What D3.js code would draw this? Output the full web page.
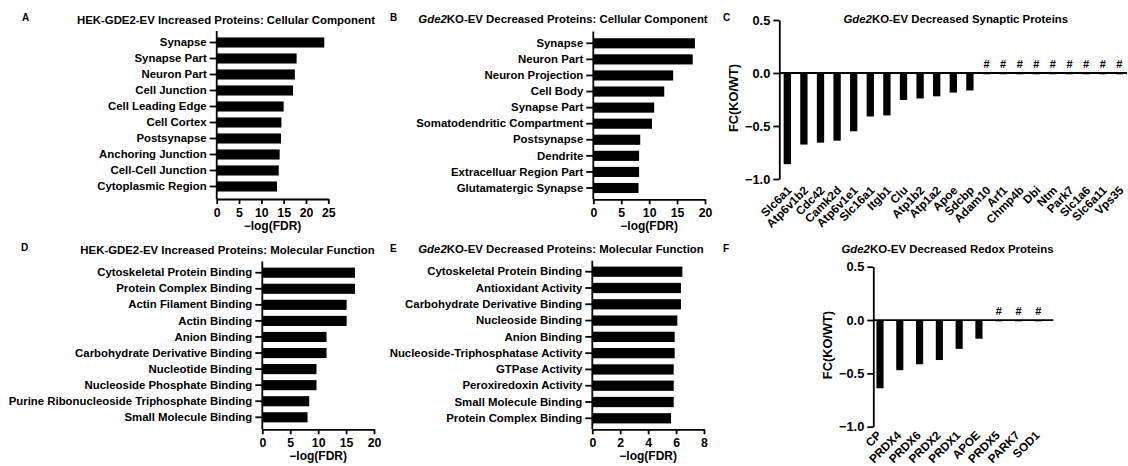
<!DOCTYPE html>
<html>
<head>
<meta charset="utf-8">
<script src="https://cdn.jsdelivr.net/npm/d3@7"></script>
<style>
  body { margin: 0; background: #fff; }
  svg { display: block; font-family: "Liberation Sans", Arial, sans-serif; font-weight: bold; }
  .domain, .tick line { stroke: #000; stroke-width: 1.8; }
  .tick text { fill: #000; font-weight: bold; }
</style>
</head>
<body>
<svg id="fig" width="1128" height="466"></svg>
<script>
// --- data ---
var ccHekCats = ["Synapse", "Synapse Part", "Neuron Part", "Cell Junction", "Cell Leading Edge",
  "Cell Cortex", "Postsynapse", "Anchoring Junction", "Cell-Cell Junction", "Cytoplasmic Region"];
var ccHekVals = [24.1, 17.9, 17.5, 17.1, 15.0, 14.5, 14.4, 14.1, 13.9, 13.5];
var ccHekTicks = [0, 5, 10, 15, 20, 25];

var ccKoCats = ["Synapse", "Neuron Part", "Neuron Projection", "Cell Body", "Synapse Part",
  "Somatodendritic Compartment", "Postsynapse", "Dendrite", "Extracelluar Region Part", "Glutamatergic Synapse"];
var ccKoVals = [18.2, 17.8, 14.3, 12.7, 10.9, 10.5, 8.4, 8.2, 8.2, 8.1];
var ccKoTicks = [0, 5, 10, 15, 20];

var mfHekCats = ["Cytoskeletal Protein Binding", "Protein Complex Binding", "Actin Filament Binding",
  "Actin Binding", "Anion Binding", "Carbohydrate Derivative Binding", "Nucleotide Binding",
  "Nucleoside Phosphate Binding", "Purine Ribonucleoside Triphosphate Binding", "Small Molecule Binding"];
var mfHekVals = [16.6, 16.6, 15.1, 15.1, 11.5, 11.5, 9.7, 9.7, 8.4, 8.1];
var mfHekTicks = [0, 5, 10, 15, 20];

var mfKoCats = ["Cytoskeletal Protein Binding", "Antioxidant Activity", "Carbohydrate Derivative Binding",
  "Nucleoside Binding", "Anion Binding", "Nucleoside-Triphosphatase Activity", "GTPase Activity",
  "Peroxiredoxin Activity", "Small Molecule Binding", "Protein Complex Binding"];
var mfKoVals = [6.45, 6.35, 6.35, 6.09, 5.9, 5.9, 5.83, 5.83, 5.83, 5.64];
var mfKoTicks = [0, 2, 4, 6, 8];

var synGenes = ["Slc6a1", "Atp6v1b2", "Cdc42", "Camk2d", "Atp6v1e1", "Slc16a1", "Itgb1", "Clu",
  "Atp1b2", "Atp1a2", "Apoe", "Sdcbp", "Adam10", "Arf1", "Chmp4b", "Dbi", "Ntm", "Park7",
  "Slc1a6", "Slc6a11", "Vps35"];
var synFC = [-0.86, -0.675, -0.657, -0.638, -0.55, -0.41, -0.40, -0.255, -0.24, -0.22, -0.185, -0.165,
  -0.012, -0.012, -0.012, -0.012, -0.012, -0.012, -0.012, -0.012, -0.012];
var synHash = [0, 0, 0, 0, 0, 0, 0, 0, 0, 0, 0, 0, 1, 1, 1, 1, 1, 1, 1, 1, 1];

var redoxGenes = ["CP", "PRDX4", "PRDX6", "PRDX2", "PRDX1", "APOE", "PRDX5", "PARK7", "SOD1"];
var redoxFC = [-0.64, -0.47, -0.415, -0.375, -0.27, -0.175, -0.012, -0.012, -0.012];
var redoxHash = [0, 0, 0, 0, 0, 0, 1, 1, 1];

var fcTicks = [0.5, 0, -0.5, -1];

var svg = d3.select("#fig");
svg.append("rect").attr("width", 1128).attr("height", 466).attr("fill", "#fff");

function addTitle(parts, cx, y) {
  var t = svg.append("text").attr("x", cx).attr("y", y)
    .attr("text-anchor", "middle").style("font-size", "11.4px");
  parts.forEach(function(p) {
    t.append("tspan").text(p[0]).style("font-style", p[1] ? "italic" : "normal");
  });
}

function addLetter(s, x, y) {
  svg.append("text").attr("x", x).attr("y", y).style("font-size", "10px").text(s);
}

function hbarPanel(o) {
  var g = svg.append("g");
  var n = o.cats.length;
  var step = (o.lastC - o.firstC) / (n - 1);
  var y = d3.scaleBand().domain(o.cats)
    .range([o.firstC - step / 2, o.lastC + step / 2])
    .paddingInner(0.37).paddingOuter(0.185);
  var x = d3.scaleLinear().domain([0, d3.max(o.ticks)]).range([o.x0, o.x1]);

  g.selectAll("rect.bar").data(o.cats).enter().append("rect")
    .attr("class", "bar")
    .attr("x", x(0))
    .attr("y", function(d) { return y(d); })
    .attr("width", function(d, i) { return x(o.vals[i]) - x(0); })
    .attr("height", y.bandwidth())
    .attr("fill", "#000");

  var ya = g.append("g").attr("transform", "translate(" + o.x0 + ",0)")
    .call(d3.axisLeft(y).tickSize(7).tickPadding(3).tickSizeOuter(0));
  ya.select(".domain").remove();
  ya.selectAll(".tick text").style("font-size", "11.4px");
  g.append("line").attr("x1", o.x0).attr("x2", o.x0).attr("y1", o.yTop).attr("y2", o.yBot)
    .attr("stroke", "#000").attr("stroke-width", 1.8);

  var xa = g.append("g").attr("transform", "translate(0," + o.yBot + ")")
    .call(d3.axisBottom(x).tickValues(o.ticks).tickSize(5).tickPadding(4).tickSizeOuter(0));
  xa.selectAll(".tick text").style("font-size", "12.3px");

  g.append("text").attr("x", (o.x0 + o.x1) / 2).attr("y", o.yBot + 31)
    .attr("text-anchor", "middle").style("font-size", "12px").text("\u2212log(FDR)");
}

function vbarPanel(o) {
  var g = svg.append("g");
  var n = o.cats.length;
  var step = (o.lastC - o.firstC) / (n - 1);
  var x = d3.scaleBand().domain(o.cats)
    .range([o.firstC - step / 2, o.lastC + step / 2])
    .paddingInner(o.pad).paddingOuter(o.pad / 2);
  var y = d3.scaleLinear().domain([-1, 0.5]).range([o.yBot, o.yTop]);

  g.selectAll("rect.bar").data(o.cats).enter().append("rect")
    .attr("class", "bar")
    .attr("x", function(d) { return x(d); })
    .attr("y", y(0))
    .attr("width", x.bandwidth())
    .attr("height", function(d, i) { return y(o.vals[i]) - y(0); })
    .attr("fill", "#000");

  g.append("line").attr("x1", o.axisX).attr("x2", o.zeroEnd).attr("y1", y(0)).attr("y2", y(0))
    .attr("stroke", "#000").attr("stroke-width", 1.8);

  var ya = g.append("g").attr("transform", "translate(" + o.axisX + ",0)")
    .call(d3.axisLeft(y).tickValues(fcTicks).tickFormat(d3.format(".1f"))
      .tickSize(6).tickPadding(3).tickSizeOuter(0));
  ya.selectAll(".tick text").style("font-size", "12.8px");

  g.selectAll("text.hash").data(o.cats).enter()
    .filter(function(d, i) { return o.hash[i]; })
    .append("text").attr("class", "hash")
    .attr("x", function(d) { return x(d) + x.bandwidth() / 2; })
    .attr("y", y(0) - 5)
    .attr("text-anchor", "middle").style("font-size", "11px").text("#");

  g.selectAll("text.lab").data(o.cats).enter().append("text")
    .attr("class", "lab")
    .attr("text-anchor", "end")
    .attr("transform", function(d) {
      return "translate(" + (x(d) + x.bandwidth() / 2 + o.labDx) + "," + o.labY + ") rotate(-45)";
    })
    .style("font-size", "11.8px")
    .text(function(d) { return d; });

  g.append("text")
    .attr("transform", "translate(" + (o.axisX - 41) + "," + (y(0) + 25) + ") rotate(-90)")
    .attr("text-anchor", "middle").style("font-size", "12.8px").text("FC(KO/WT)");
}

// A
addLetter("A", 22, 21);
addTitle([["HEK-GDE2-EV Increased Proteins: Cellular Component", false]], 226, 24);
hbarPanel({ cats: ccHekCats, vals: ccHekVals, ticks: ccHekTicks,
  x0: 216.7, x1: 328.3, yTop: 31, yBot: 199, firstC: 42.5, lastC: 186.5 });

// B
addLetter("B", 390, 21);
addTitle([["Gde2", true], ["KO-EV Decreased Proteins: Cellular Component", false]], 563, 23);
hbarPanel({ cats: ccKoCats, vals: ccKoVals, ticks: ccKoTicks,
  x0: 593.3, x1: 705, yTop: 31.5, yBot: 199.3, firstC: 43.3, lastC: 188 });

// C
addLetter("C", 723, 21);
addTitle([["Gde2", true], ["KO-EV Decreased Synaptic Proteins", false]], 955.8, 23);
vbarPanel({ cats: synGenes, vals: synFC, hash: synHash, axisX: 779.3, zeroEnd: 1127,
  yTop: 20, yBot: 179, firstC: 787.3, lastC: 1119.3, pad: 0.56, labDx: 5, labY: 191 });

// D
addLetter("D", 21, 251);
addTitle([["HEK-GDE2-EV Increased Proteins: Molecular Function", false]], 227.5, 254);
hbarPanel({ cats: mfHekCats, vals: mfHekVals, ticks: mfHekTicks,
  x0: 262.3, x1: 374, yTop: 261.5, yBot: 429.3, firstC: 272.7, lastC: 417.3 });

// E
addLetter("E", 390, 252);
addTitle([["Gde2", true], ["KO-EV Decreased Proteins: Molecular Function", false]], 561, 253);
hbarPanel({ cats: mfKoCats, vals: mfKoVals, ticks: mfKoTicks,
  x0: 592.3, x1: 704, yTop: 260.7, yBot: 429.3, firstC: 271.7, lastC: 418.3 });

// F
addLetter("F", 723, 252);
addTitle([["Gde2", true], ["KO-EV Decreased Redox Proteins", false]], 947.5, 253);
vbarPanel({ cats: redoxGenes, vals: redoxFC, hash: redoxHash, axisX: 873.3, zeroEnd: 1053.3,
  yTop: 266.7, yBot: 426.7, firstC: 880, lastC: 1038.3, pad: 0.64, labDx: 2, labY: 436 });
</script>
</body>
</html>
